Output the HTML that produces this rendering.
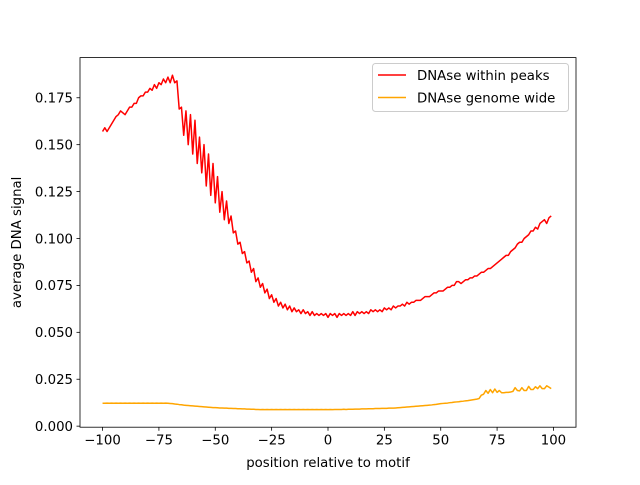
<!DOCTYPE html>
<html><head><meta charset="utf-8"><style>
body{margin:0;background:#fff}
svg text{font-family:"DejaVu Sans","Liberation Sans",sans-serif;font-size:13.3px;fill:#000}
</style></head><body>
<svg id="chart" width="640" height="480" xmlns="http://www.w3.org/2000/svg">
<rect width="640" height="480" fill="#fff"/>
<g id="plot"></g>
</svg>
<script>
const xStart = -100;
const xTicks = [-100,-75,-50,-25,0,25,50,75,100];
const yTicks = [0.000,0.025,0.050,0.075,0.100,0.125,0.150,0.175];
const seriesNames = ["DNAse within peaks","DNAse genome wide"];
const peaks = [
0.157,0.159,0.157,0.159,0.161,0.163,0.165,0.166,0.168,0.167,
0.166,0.168,0.170,0.170,0.172,0.172,0.175,0.176,0.176,0.178,
0.178,0.180,0.179,0.182,0.180,0.183,0.182,0.185,0.183,0.186,
0.183,0.187,0.183,0.184,0.169,0.170,0.155,0.168,0.150,0.166,
0.145,0.163,0.140,0.154,0.135,0.150,0.128,0.145,0.123,0.140,
0.119,0.133,0.114,0.125,0.110,0.120,0.108,0.112,0.103,0.104,
0.097,0.098,0.092,0.093,0.087,0.088,0.082,0.084,0.077,0.079,
0.074,0.076,0.071,0.073,0.068,0.070,0.066,0.068,0.064,0.066,
0.063,0.065,0.062,0.064,0.061,0.063,0.061,0.062,0.060,0.062,
0.060,0.061,0.059,0.061,0.059,0.060,0.059,0.060,0.059,0.060,
0.058,0.060,0.059,0.060,0.058,0.060,0.059,0.060,0.059,0.060,
0.059,0.061,0.059,0.061,0.060,0.061,0.060,0.061,0.060,0.062,
0.061,0.062,0.061,0.062,0.061,0.063,0.062,0.063,0.062,0.064,
0.063,0.064,0.064,0.065,0.064,0.066,0.065,0.066,0.066,0.067,
0.067,0.067,0.068,0.069,0.069,0.069,0.070,0.071,0.071,0.072,
0.072,0.072,0.073,0.074,0.074,0.075,0.075,0.077,0.077,0.076,
0.077,0.078,0.078,0.079,0.079,0.080,0.080,0.081,0.082,0.082,
0.083,0.084,0.084,0.085,0.086,0.087,0.088,0.089,0.090,0.091,
0.091,0.093,0.094,0.095,0.097,0.098,0.098,0.100,0.101,0.102,
0.104,0.104,0.106,0.105,0.108,0.109,0.110,0.108,0.111,0.112];
const genome = [
0.0122,0.0122,0.0123,0.0122,0.0123,0.0122,0.0123,0.0122,0.0123,0.0122,
0.0123,0.0122,0.0123,0.0122,0.0123,0.0122,0.0123,0.0122,0.0123,0.0122,
0.0123,0.0122,0.0123,0.0122,0.0123,0.0122,0.0123,0.0122,0.0123,0.0122,
0.0121,0.0120,0.0118,0.0117,0.0115,0.0114,0.0112,0.0111,0.0110,0.0109,
0.0108,0.0107,0.0106,0.0105,0.0104,0.0103,0.0102,0.0101,0.0100,0.0099,
0.0099,0.0098,0.0097,0.0097,0.0096,0.0096,0.0095,0.0095,0.0094,0.0094,
0.0093,0.0093,0.0092,0.0092,0.0091,0.0091,0.0090,0.0090,0.0089,0.0089,
0.0088,0.0089,0.0088,0.0089,0.0088,0.0089,0.0088,0.0089,0.0088,0.0089,
0.0088,0.0089,0.0088,0.0089,0.0088,0.0089,0.0088,0.0089,0.0088,0.0089,
0.0088,0.0089,0.0088,0.0089,0.0088,0.0089,0.0088,0.0089,0.0088,0.0089,
0.0088,0.0089,0.0088,0.0089,0.0089,0.0089,0.0089,0.0090,0.0089,0.0090,
0.0090,0.0090,0.0091,0.0091,0.0091,0.0092,0.0092,0.0092,0.0093,0.0093,
0.0093,0.0094,0.0094,0.0094,0.0095,0.0095,0.0095,0.0096,0.0096,0.0096,
0.0097,0.0098,0.0099,0.0100,0.0101,0.0102,0.0103,0.0104,0.0105,0.0106,
0.0107,0.0108,0.0109,0.0110,0.0111,0.0112,0.0113,0.0115,0.0116,0.0118,
0.0120,0.0121,0.0122,0.0123,0.0125,0.0126,0.0128,0.0129,0.0130,0.0132,
0.0133,0.0135,0.0136,0.0138,0.0140,0.0142,0.0144,0.0147,0.0165,0.0170,
0.0190,0.0175,0.0195,0.0178,0.0198,0.0180,0.0190,0.0178,0.0178,0.0180,
0.0180,0.0182,0.0185,0.0205,0.0190,0.0188,0.0205,0.0190,0.0190,0.0212,
0.0195,0.0195,0.0210,0.0200,0.0215,0.0200,0.0200,0.0215,0.0208,0.0200];

const L=80,R=576,T=57.6,B=427.2;
const xMin=-110,xMax=110,yMin=-0.00056,yMax=0.1964;
const sx=v=>L+(v-xMin)/(xMax-xMin)*(R-L);
const sy=v=>B-(v-yMin)/(yMax-yMin)*(B-T);
const NS="http://www.w3.org/2000/svg";
const g=document.getElementById('plot');
function mk(tag,attrs,parent){const e=document.createElementNS(NS,tag);for(const k in attrs)e.setAttribute(k,attrs[k]);(parent||g).appendChild(e);return e;}

function line(data,color,name){
  const pts=data.map((v,i)=>sx(xStart+i).toFixed(2)+","+sy(v).toFixed(2)).join(" ");
  const p=mk('polyline',{points:pts,fill:'none',stroke:color,'stroke-width':1.5,'stroke-linejoin':'round'});
  
  
}
line(peaks,'#ff0000','series-dnase-within-peaks');
line(genome,'#ffa500','series-dnase-genome-wide');

const frame=mk('rect',{x:L,y:T,width:R-L,height:B-T,fill:'none',stroke:'#000','stroke-width':0.8});



xTicks.forEach(t=>{
  const x=sx(t);
  const tk=mk('line',{x1:x,x2:x,y1:B,y2:B+3.5,stroke:'#000','stroke-width':0.8});
  
  
  const tx=mk('text',{x:x,y:B+17.5,'text-anchor':'middle'});
  tx.textContent=t<0?'\u2212'+(-t):String(t);
  
  
});
yTicks.forEach(t=>{
  const y=sy(t);
  const tk=mk('line',{x1:L-3.5,x2:L,y1:y,y2:y,stroke:'#000','stroke-width':0.8});
  
  
  const tx=mk('text',{x:L-7,y:y+4.8,'text-anchor':'end'});
  tx.textContent=t.toFixed(3);
  
  
});
const xl=mk('text',{x:(L+R)/2,y:467,'text-anchor':'middle'});
xl.textContent='position relative to motif';


const yl=mk('text',{x:0,y:0,'text-anchor':'middle',transform:'translate(21,'+((T+B)/2)+') rotate(-90)'});
yl.textContent='average DNA signal';



const lg=mk('g',{});


mk('rect',{x:372.5,y:63.5,width:196,height:48,rx:3,fill:'#fff','fill-opacity':0.8,stroke:'#ccc','stroke-width':1},lg);
const cols=['#ff0000','#ffa500'];
seriesNames.forEach((n,i)=>{
  const y=75+i*22.5;
  const e=mk('g',{},lg);
  
  
  mk('line',{x1:378,x2:406,y1:y,y2:y,stroke:cols[i],'stroke-width':1.5},e);
  const t=mk('text',{x:417,y:y+4.8},e);
  t.textContent=n;
});
</script>
</body></html>
